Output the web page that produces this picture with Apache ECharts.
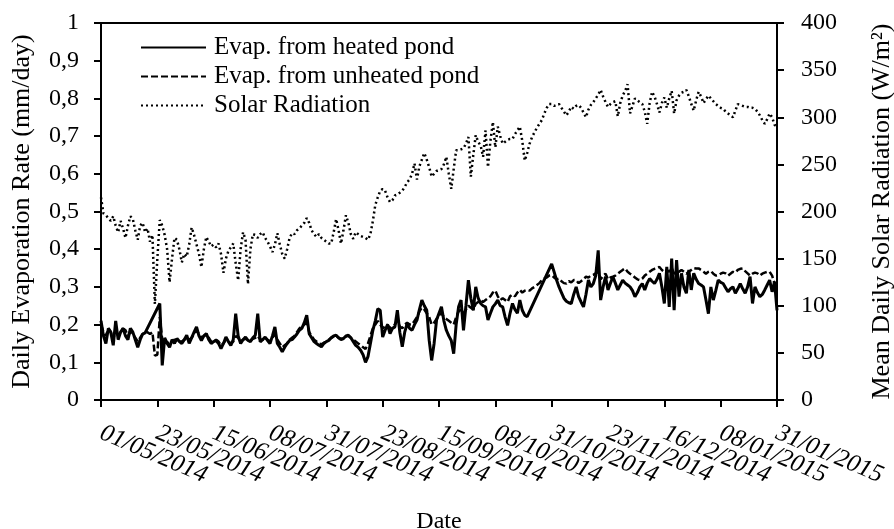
<!DOCTYPE html>
<html>
<head>
<meta charset="utf-8">
<script src="https://cdn.jsdelivr.net/npm/echarts@6/dist/echarts.min.js"></script>
<style>
  html, body { margin: 0; padding: 0; background: #fff; }
  #chart { width: 894px; height: 529px; }
</style>
</head>
<body>
<div id="chart"></div>
<script>
// Tick labels of the date axis: one every 23 days, day 0 = 01/05/2014
const dateLabels = ['01/05/2014', '23/05/2014', '15/06/2014', '08/07/2014', '31/07/2014',
  '23/08/2014', '15/09/2014', '08/10/2014', '31/10/2014', '23/11/2014',
  '16/12/2014', '08/01/2015', '31/01/2015'];
const evapTickLabels = ['0', '0,1', '0,2', '0,3', '0,4', '0,5', '0,6', '0,7', '0,8', '0,9', '1'];
const seriesNames = ['Evap. from heated pond', 'Evap. from unheated pond', 'Solar Radiation'];

// Daily evaporation, heated pond (mm/day); null = no measurement that day
const heatedEvap = [
  0.21, 0.17, 0.15, 0.19, 0.18, 0.145, 0.21, 0.16, 0.18, 0.19, 0.17, 0.16, 0.19, 0.18, 0.16, 0.14, 0.16, 0.175, 0.178, null, null, null, null,
  null, 0.256, 0.092, 0.165, 0.15, 0.14, 0.16, 0.15, 0.163, 0.155, 0.15, 0.16, 0.172, 0.15, 0.165, 0.18, 0.194, 0.17, 0.158, 0.17, 0.176, 0.16, 0.15,
  0.155, 0.158, 0.15, 0.136, 0.15, 0.167, 0.155, 0.145, 0.16, 0.229, 0.17, 0.15, 0.16, 0.167, 0.158, 0.155, 0.165, 0.172, 0.229, 0.154, 0.16, 0.167, 0.158,
  0.15, 0.17, 0.194, 0.15, 0.14, 0.128, 0.14, 0.15, 0.158, 0.16, 0.167, 0.175, 0.185, 0.19, 0.205, 0.225, 0.176, 0.165, 0.155, 0.15, 0.145, 0.141, 0.15,
  0.155, 0.158, 0.165, 0.17, 0.172, 0.165, 0.16, 0.163, 0.17, 0.172, 0.165, 0.155, 0.145, 0.14, 0.132, 0.12, 0.10, 0.115, 0.15, 0.185, 0.21, 0.242, 0.238,
  0.167, 0.185, 0.2, 0.176, 0.19, 0.194, 0.238, 0.18, 0.141, 0.18, 0.203, 0.19, 0.185, 0.2, 0.212, 0.24, 0.265, 0.25, 0.238, 0.158, 0.105, 0.15, 0.212,
  0.23, 0.247, 0.21, 0.185, 0.17, 0.158, 0.123, 0.2, 0.247, 0.265, 0.185, 0.25, 0.318, 0.27, 0.238, 0.30, 0.27, 0.256, 0.25, 0.247, 0.212, 0.23, 0.247,
  0.255, 0.265, 0.25, 0.247, 0.22, 0.198, 0.23, 0.256, 0.24, 0.23, 0.265, 0.238, 0.225, 0.221, null, null, null, null, null, null, null, null, null,
  0.361, 0.34, 0.318, 0.30, 0.285, 0.27, 0.262, 0.258, 0.256, 0.28, 0.30, 0.274, 0.26, 0.247, 0.28, 0.318, 0.30, 0.309, 0.33, 0.397, 0.265, 0.30, 0.327,
  0.292, 0.31, 0.327, 0.31, 0.292, 0.305, 0.318, 0.31, 0.305, 0.30, 0.29, 0.274, 0.285, 0.30, 0.309, 0.292, 0.31, 0.322, 0.315, 0.309, 0.32, 0.336, 0.30,
  0.256, 0.353, 0.247, 0.375, 0.238, 0.371, 0.274, 0.336, 0.30, 0.283, 0.345, 0.292, 0.336, 0.32, 0.309, 0.305, 0.30, 0.265, 0.229, 0.30, 0.265, 0.29, 0.318,
  0.312, 0.309, 0.298, 0.287, 0.295, 0.30, 0.283, 0.295, 0.309, 0.295, 0.283, 0.30, 0.327, 0.256, 0.30, 0.285, 0.274, 0.28, 0.292, 0.305, 0.318, 0.287, 0.314,
  0.238
];

// Daily evaporation, unheated pond (mm/day)
const unheatedEvap = [
  0.20, 0.18, 0.17, 0.19, 0.18, 0.16, 0.19, 0.17, 0.18, 0.19, 0.185, 0.17, 0.18, 0.175, 0.165, 0.155, 0.165, 0.175, 0.178, 0.18, 0.175, 0.18, 0.118,
  0.12, 0.22, 0.16, 0.15, 0.155, 0.145, 0.155, 0.16, 0.16, 0.155, 0.155, 0.16, 0.165, 0.16, 0.165, 0.175, 0.185, 0.175, 0.165, 0.17, 0.172, 0.165, 0.155,
  0.155, 0.16, 0.155, 0.145, 0.15, 0.16, 0.155, 0.15, 0.155, 0.17, 0.165, 0.155, 0.16, 0.162, 0.16, 0.158, 0.162, 0.165, 0.17, 0.16, 0.16, 0.165, 0.16,
  0.155, 0.165, 0.175, 0.16, 0.15, 0.14, 0.145, 0.15, 0.16, 0.165, 0.17, 0.18, 0.19, 0.195, 0.2, 0.205, 0.18, 0.17, 0.16, 0.155, 0.15, 0.148, 0.152,
  0.155, 0.16, 0.165, 0.168, 0.17, 0.165, 0.162, 0.165, 0.168, 0.17, 0.165, 0.16, 0.155, 0.15, 0.145, 0.14, 0.135, 0.15, 0.17, 0.19, 0.2, 0.21, 0.2,
  0.19, 0.195, 0.2, 0.19, 0.195, 0.2, 0.21, 0.195, 0.19, 0.2, 0.205, 0.2, 0.2, 0.21, 0.22, 0.235, 0.245, 0.24, 0.23, 0.22, 0.2, 0.205, 0.215,
  0.225, 0.23, 0.22, 0.215, 0.21, 0.205, 0.2, 0.22, 0.235, 0.24, 0.23, 0.24, 0.25, 0.245, 0.24, 0.255, 0.26, 0.265, 0.26, 0.265, 0.27, 0.275, 0.285,
  0.29, 0.275, 0.265, 0.27, 0.265, 0.26, 0.275, 0.28, 0.275, 0.285, 0.292, 0.285, 0.29, 0.292, 0.29, 0.296, 0.30, 0.305, 0.31, 0.318, 0.322, 0.325, 0.33,
  0.331, 0.325, 0.32, 0.322, 0.315, 0.31, 0.309, 0.315, 0.312, 0.318, 0.318, 0.31, 0.315, 0.32, 0.327, 0.325, 0.33, 0.332, 0.336, 0.34, 0.32, 0.33, 0.335,
  0.32, 0.325, 0.327, 0.33, 0.335, 0.34, 0.345, 0.349, 0.34, 0.335, 0.331, 0.325, 0.32, 0.318, 0.322, 0.33, 0.335, 0.34, 0.345, 0.348, 0.35, 0.353, 0.345,
  0.34, 0.345, 0.34, 0.35, 0.335, 0.34, 0.34, 0.345, 0.34, 0.335, 0.34, 0.345, 0.35, 0.349, 0.349, 0.345, 0.34, 0.335, 0.34, 0.342, 0.335, 0.33, 0.331,
  0.335, 0.338, 0.336, 0.33, 0.335, 0.34, 0.338, 0.345, 0.348, 0.349, 0.342, 0.336, 0.33, 0.335, 0.338, 0.336, 0.33, 0.335, 0.338, 0.34, 0.34, 0.33, 0.309,
  0.31
];

// Mean daily solar radiation (W/m2)
const solarRadiation = [
  215, 198, 196, 193, 190, 195, 185, 178, 190, 182, 172, 185, 195, 192, 180, 170, 185, 188, 178, 182, 168, 175, 102,
  150, 191, 185, 175, 160, 125, 150, 172, 170, 160, 146, 155, 152, 165, 183, 175, 165, 155, 141, 160, 173, 168, 163,
  165, 162, 166, 155, 135, 150, 158, 162, 166, 145, 127, 160, 178, 170, 123, 160, 176, 175, 172, 176, 178, 172, 168,
  163, 157, 165, 177, 165, 155, 150, 160, 172, 177, 176, 180, 182, 185, 188, 193, 188, 180, 176, 173, 176, 172, 170,
  168, 166, 166, 178, 192, 180, 166, 180, 196, 188, 176, 171, 178, 176, 174, 173, 172, 170, 176, 190, 207, 215, 222,
  224, 222, 215, 210, 212, 217, 218, 220, 222, 226, 231, 234, 240, 251, 234, 248, 255, 262, 255, 247, 237, 240, 243,
  244, 245, 250, 258, 240, 224, 245, 265, 265, 266, 267, 272, 279, 237, 260, 281, 274, 270, 258, 286, 247, 275, 295,
  268, 290, 280, 272, 274, 276, 277, 277, 282, 286, 290, 275, 254, 262, 272, 279, 284, 289, 293, 297, 304, 310, 314,
  314, 312, 313, 314, 310, 306, 302, 306, 311, 309, 312, 313, 310, 305, 300, 308, 313, 316, 320, 324, 329, 322, 316,
  311, 314, 316, 317, 301, 315, 323, 328, 335, 304, 312, 320, 318, 316, 314, 306, 293, 315, 327, 322, 314, 305, 315,
  321, 310, 320, 328, 304, 318, 323, 326, 327, 329, 322, 314, 307, 318, 327, 322, 315, 319, 323, 320, 317, 314, 312,
  310, 309, 306, 304, 302, 300, 307, 314, 313, 312, 311, 311, 310, 310, 309, 306, 302, 297, 293, 298, 304, 300, 292,
  290
];

const FONT = "'Liberation Serif', 'Times New Roman', serif";
const DAYS_PER_TICK = 23;
const lastDay = DAYS_PER_TICK * (dateLabels.length - 1);

// x = day number counted from 01/05/2014
const byDay = arr => arr.map((v, i) => [i, v]);

// The slanted date labels overlap their neighbours, and ECharts drops a label
// next to the first/last one when they overlap. The labels are therefore split
// over two identical date axes: even ticks on the first, odd ticks on the second.
const dateLabelStyle = {
  rotate: -23, margin: 32,
  hideOverlap: false,
  fontFamily: FONT, fontStyle: 'italic', fontSize: 25, color: '#000'
};
const labelForParity = parity => v => {
  const i = Math.round(v / DAYS_PER_TICK);
  return i % 2 === parity ? dateLabels[i] : '';
};

const chart = echarts.init(document.getElementById('chart'), null, { renderer: 'canvas' });

const option = {
  animation: false,
  backgroundColor: '#ffffff',
  grid: {
    left: 101, right: 117, top: 23, bottom: 129,
    outerBoundsMode: 'none',
    containLabel: false,
    show: true, borderColor: '#000', borderWidth: 2, backgroundColor: 'transparent'
  },
  legend: {
    orient: 'vertical',
    left: 135, top: 28,
    itemWidth: 65, itemHeight: 14, itemGap: 0,
    itemStyle: { color: 'transparent', borderWidth: 0, opacity: 0 },
    textStyle: { fontFamily: FONT, fontSize: 25, color: '#000', lineHeight: 29, padding: [0, 0, 0, 3] },
    data: seriesNames
  },
  xAxis: [
    {
      type: 'value', position: 'bottom',
      min: 0, max: lastDay, interval: DAYS_PER_TICK,
      name: 'Date',
      nameLocation: 'middle',
      nameGap: 110,
      nameTextStyle: { fontFamily: FONT, fontSize: 24, color: '#000' },
      axisLine: { show: true, onZero: false, lineStyle: { color: '#000', width: 2 } },
      axisTick: { show: true, length: 7, lineStyle: { color: '#000', width: 2 } },
      splitLine: { show: false },
      axisLabel: Object.assign({}, dateLabelStyle, {
        showMinLabel: true, showMaxLabel: true,
        formatter: labelForParity(0)
      })
    },
    {
      type: 'value', position: 'bottom', offset: 0,
      min: 0, max: lastDay, interval: DAYS_PER_TICK,
      axisLine: { show: false, onZero: false },
      axisTick: { show: false },
      splitLine: { show: false },
      axisLabel: Object.assign({}, dateLabelStyle, {
        showMinLabel: false, showMaxLabel: false,
        formatter: labelForParity(1)
      })
    }
  ],
  yAxis: [
    {
      type: 'value', position: 'left', min: 0, max: 1, interval: 0.1,
      name: 'Daily Evaporation Rate (mm/day)',
      nameLocation: 'middle', nameRotate: 90, nameGap: 66,
      nameTextStyle: { fontFamily: FONT, fontSize: 26, color: '#000' },
      axisLine: { show: true, onZero: false, lineStyle: { color: '#000', width: 2 } },
      axisTick: { show: true, length: 7, lineStyle: { color: '#000', width: 2 } },
      splitLine: { show: false },
      axisLabel: {
        margin: 22, hideOverlap: false, fontFamily: FONT, fontSize: 24, color: '#000',
        formatter: v => evapTickLabels[Math.round(v * 10)]
      }
    },
    {
      type: 'value', position: 'right', min: 0, max: 400, interval: 50,
      name: 'Mean Daily Solar Radiation (W/m²)',
      nameLocation: 'middle', nameRotate: 90, nameGap: 92,
      nameTextStyle: { fontFamily: FONT, fontSize: 26, color: '#000' },
      axisLine: { show: true, onZero: false, lineStyle: { color: '#000', width: 2 } },
      axisTick: { show: true, length: 7, lineStyle: { color: '#000', width: 2 } },
      splitLine: { show: false },
      axisLabel: { margin: 24, hideOverlap: false, fontFamily: FONT, fontSize: 24, color: '#000' }
    }
  ],
  series: [
    {
      name: seriesNames[2], type: 'line', xAxisIndex: 0, yAxisIndex: 1,
      data: byDay(solarRadiation),
      symbol: 'none', connectNulls: true,
      lineStyle: { color: '#000', width: 2.5, type: [2, 3], cap: 'butt' },
      itemStyle: { color: '#000' },
      z: 2
    },
    {
      name: seriesNames[1], type: 'line', xAxisIndex: 0, yAxisIndex: 0,
      data: byDay(unheatedEvap),
      symbol: 'none', connectNulls: true,
      lineStyle: { color: '#000', width: 2.5, type: [7, 3] },
      itemStyle: { color: '#000' },
      z: 3
    },
    {
      name: seriesNames[0], type: 'line', xAxisIndex: 0, yAxisIndex: 0,
      data: byDay(heatedEvap),
      symbol: 'none', connectNulls: true,
      lineStyle: { color: '#000', width: 3 },
      itemStyle: { color: '#000' },
      z: 4
    }
  ]
};

chart.setOption(option);
</script>
</body>
</html>
